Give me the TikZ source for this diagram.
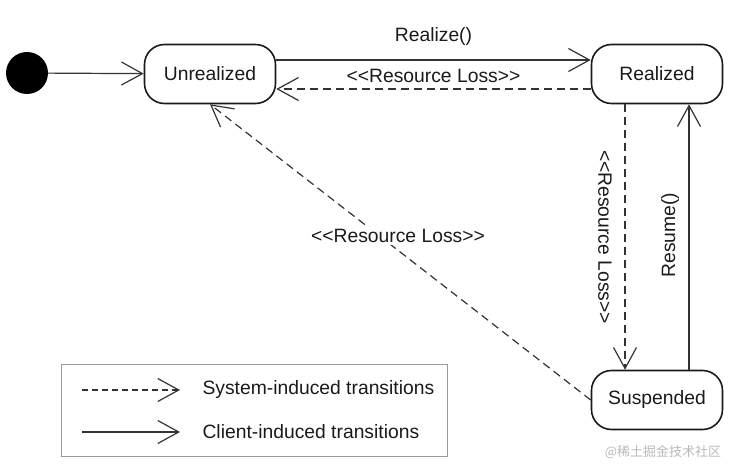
\documentclass[tikz,border=0pt]{standalone}
\usepackage{fontspec}
\setmainfont{Liberation Sans}
\newfontfamily\cjkfont{Noto Sans CJK SC}
\usetikzlibrary{arrows.meta,positioning}
\definecolor{ink}{HTML}{1A1A1A}
\definecolor{wire}{HTML}{333333}
\definecolor{frame}{HTML}{9A9A9A}
\newcommand\stereo[1]{<\kern0pt<#1>\kern0pt>}

\begin{document}
\begin{tikzpicture}[
  x=1pt,y=-1pt,
  every node/.style={font=\fontsize{19.3}{23}\selectfont,text=ink},
  state/.style={draw=ink,line width=1.6pt,rounded corners=20pt,minimum width=131pt,minimum height=59pt},
  client/.style={-{Straight Barb[length=21pt,width=23pt]},line width=1.2pt,draw=wire},
  system/.style={client,dash pattern=on 8pt off 5pt},
  lbl/.style={inner sep=2pt}
]
\useasboundingbox (0,0) rectangle (730,473);
% states
\node[circle,fill=black,minimum size=42pt,inner sep=0pt] (init) at (27,73) {};
\node[state] (unreal) at (210,74) {Unrealized};
\node[state] (real) at (657,74) {Realized};
\node[state] (susp) at (657,400) {Suspended};
% transitions
\draw[client] (init) -- (unreal);
\draw[client] ([yshift=14pt]unreal.east) -- node[lbl,above=12pt] (realize) {Realize()} ([yshift=14pt]real.west);
\draw[system] ([yshift=-15pt]real.west) -- node[lbl,above=4pt] (lossh) {\stereo{Resource Loss}} ([yshift=-15pt]unreal.east);
\draw[system] ([xshift=-32pt]real.south) -- ([xshift=-32pt]susp.north);
\draw[client] ([xshift=32pt]susp.north) -- ([xshift=32pt]real.south);
\node[lbl,rotate=-90] (lossv) at (605,237) {\stereo{Resource Loss}};
\node[lbl,rotate=90] (resume) at (670,235) {Resume()};
\draw[system] (susp.west) -- (unreal.south);
\node[lbl,fill=white] (lossd) at (398,236) {\stereo{Resource Loss}};
% legend
\node[draw=frame,line width=1pt,minimum width=386pt,minimum height=92pt] (legend) at (254,410) {};
\coordinate (sysA) at (82,390);
\coordinate (sysB) at (180,390);
\coordinate (cliA) at (82,432);
\coordinate (cliB) at (180,432);
\draw[system,dash pattern=on 6pt off 4pt] (sysA) -- (sysB);
\draw[client] (cliA) -- (cliB);
\node[anchor=west] (systxt) at (199,390) {System-induced transitions};
\node[anchor=west] (clitxt) at (199,432) {Client-induced transitions};
\node[font=\cjkfont\fontsize{13}{15}\selectfont,text=gray!55] (mark) at (663,452) {@稀土掘金技术社区};
\end{tikzpicture}
\end{document}
